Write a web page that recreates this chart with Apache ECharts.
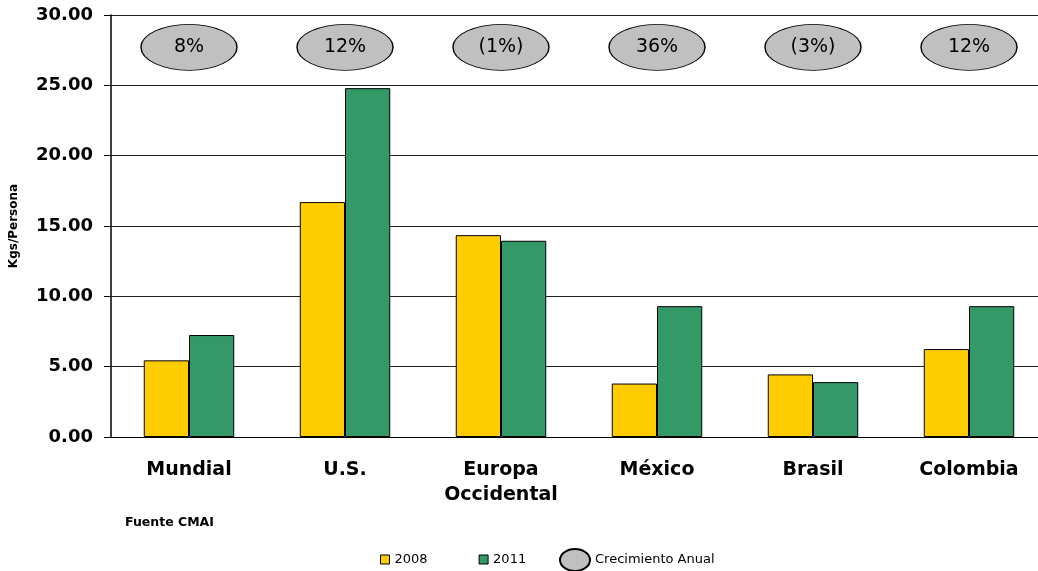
<!DOCTYPE html>
<html>
<head>
<meta charset="utf-8">
<script src="https://cdn.jsdelivr.net/npm/echarts@6/dist/echarts.min.js"></script>
<style>
html,body{margin:0;padding:0;background:#fff;overflow:hidden;}
#chart{width:1047px;height:571px;}
</style>
</head>
<body>
<div id="chart"></div>
<script>
// datos
const categorias = ['Mundial', 'U.S.', 'Europa\nOccidental', 'México', 'Brasil', 'Colombia'];
const valores2008 = [5.45, 16.7, 14.35, 3.8, 4.45, 6.25];
const valores2011 = [7.25, 24.8, 13.95, 9.3, 3.9, 9.3];
const crecimiento = ['8%', '12%', '(1%)', '36%', '(3%)', '12%'];
const posCrecimiento = 27.7; // altura de las elipses
const yTicks = [0, 5, 10, 15, 20, 25, 30];

const myChart = echarts.init(document.getElementById('chart'));

myChart.setOption({
  animation: false,
  grid: {
    left: 111,
    right: 0,
    top: 15,
    bottom: 134
  },
  legend: [
    {
      data: ['2008', '2011'],
      left: 380,
      top: 553,
      padding: 0,
      itemWidth: 9,
      itemHeight: 9,
      itemGap: 51,
      icon: 'rect',
      textStyle: {fontFamily: 'DejaVu Sans', fontSize: 13, color: '#000'},
      itemStyle: {borderColor: '#000', borderWidth: 1}
    },
    {
      data: ['Crecimiento Anual'],
      left: 559,
      top: 548,
      padding: 0,
      itemWidth: 30,
      itemHeight: 22,
      icon: 'path://M0,11 A15,11 0 1,1 30,11 A15,11 0 1,1 0,11 Z',
      textStyle: {fontFamily: 'DejaVu Sans', fontSize: 13, color: '#000', padding: [0, 0, 8, 0]}
    }
  ],
  xAxis: {
    type: 'category',
    data: categorias,
    axisLine: {lineStyle: {color: '#000', width: 1}},
    axisTick: {length: 8, lineStyle: {color: '#000'}},
    axisLabel: {
      margin: 21,
      fontFamily: 'DejaVu Sans',
      fontSize: 19,
      fontWeight: 'bold',
      color: '#000',
      lineHeight: 25,
      interval: 0
    }
  },
  yAxis: {
    type: 'value',
    min: 0,
    max: 30,
    interval: 5,
    name: 'Kgs/Persona',
    nameLocation: 'middle',
    nameGap: 91,
    nameTextStyle: {fontFamily: 'DejaVu Sans', fontSize: 12, fontWeight: 'bold', color: '#000'},
    axisLine: {show: true, lineStyle: {color: '#000', width: 1.5}},
    axisTick: {show: true, length: 7, lineStyle: {color: '#000'}},
    splitLine: {lineStyle: {color: '#222', width: 1}},
    axisLabel: {
      margin: 18,
      fontFamily: 'DejaVu Sans',
      fontSize: 18,
      fontWeight: 'bold',
      color: '#000',
      formatter: v => yTicks.includes(v) ? v.toFixed(2) : ''
    }
  },
  series: [
    {
      name: '2008',
      type: 'bar',
      data: valores2008,
      barGap: '0%',
      barCategoryGap: '42%',
      itemStyle: {color: '#FFCC00', borderColor: '#000', borderWidth: 1}
    },
    {
      name: '2011',
      type: 'bar',
      data: valores2011,
      itemStyle: {color: '#339966', borderColor: '#000', borderWidth: 1}
    },
    {
      name: 'Crecimiento Anual',
      type: 'scatter',
      data: crecimiento.map(() => posCrecimiento),
      symbol: 'circle',
      symbolSize: [96, 46],
      itemStyle: {color: '#C0C0C0', borderColor: '#000', borderWidth: 1, opacity: 1},
      label: {
        show: true,
        position: 'inside',
        formatter: p => crecimiento[p.dataIndex],
        fontFamily: 'DejaVu Sans',
        fontSize: 19,
        color: '#000'
      },
      z: 5
    }
  ],
  graphic: [
    {
      type: 'text',
      left: 125,
      top: 516,
      style: {
        text: 'Fuente CMAI',
        font: 'bold 12.5px "DejaVu Sans"',
        fill: '#000'
      }
    }
  ]
});
</script>
</body>
</html>
